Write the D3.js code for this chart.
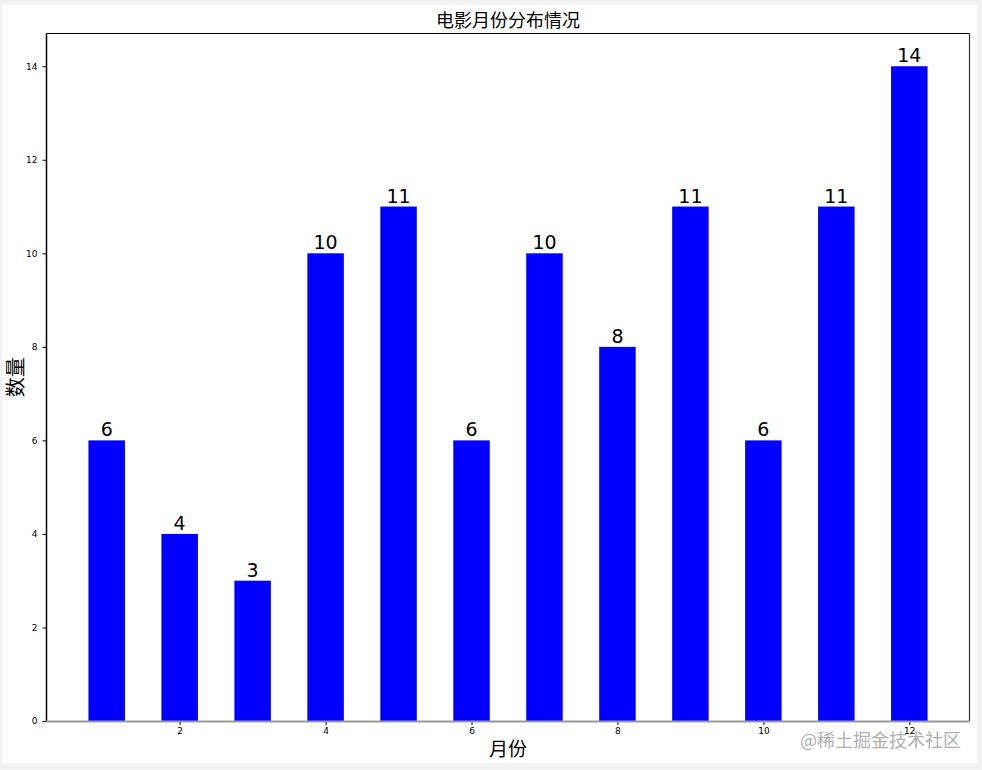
<!DOCTYPE html>
<html><head><meta charset="utf-8">
<script src="https://cdn.jsdelivr.net/npm/d3@7/dist/d3.min.js"></script>
<style>
html,body{margin:0;padding:0;background:#f2f2f2;}
svg{display:block;}
</style></head>
<body>
<svg id="c" width="982" height="770"></svg>
<script>
const months = [1,2,3,4,5,6,7,8,9,10,11,12];
const counts = [6,4,3,10,11,6,10,8,11,6,11,14];
const xTicks = [2,4,6,8,10,12];
const yTicks = [0,2,4,6,8,10,12,14];
const title = "电影月份分布情况";
const xLabel = "月份";
const yLabel = "数量";
const watermark = "@稀土掘金技术社区";

const svg = d3.select("#c");
const font = "'Noto Sans CJK SC', 'DejaVu Sans', sans-serif";
svg.append("rect").attr("x",2).attr("y",5).attr("width",975).attr("height",758).attr("fill","#fff");

const L=46.5, R=969.5, T=33.5, B=721;
const x = d3.scaleLinear().domain([0.175,12.825]).range([L,R]);
const y = d3.scaleLinear().domain([0,14.7]).range([B,T]);
const bw = x(1.25)-x(0.75);

svg.append("g").selectAll("rect").data(months).join("rect")
  .attr("x",(d)=>x(d)-bw/2).attr("width",bw)
  .attr("y",(d,i)=>y(counts[i])).attr("height",(d,i)=>B-y(counts[i]))
  .attr("fill","#0000ff");

svg.append("g").selectAll("text").data(months).join("text")
  .attr("x",d=>x(d)).attr("y",(d,i)=>y(counts[i])-4)
  .attr("text-anchor","middle").attr("font-family","'DejaVu Sans', sans-serif")
  .attr("font-size",19).attr("fill","#000").text((d,i)=>counts[i]);

// axes
const xa = svg.append("g").attr("transform",`translate(0,${B})`)
  .call(d3.axisBottom(x).tickValues(xTicks).tickSize(4).tickPadding(3));
xa.select(".domain").remove();
xa.selectAll("text").attr("font-size",9).attr("font-family","'DejaVu Sans', sans-serif");
const ya = svg.append("g").attr("transform",`translate(${L},0)`)
  .call(d3.axisLeft(y).tickValues(yTicks).tickSize(4).tickPadding(5));
ya.select(".domain").remove();
ya.selectAll("text").attr("font-size",9).attr("font-family","'DejaVu Sans', sans-serif");

// spines
svg.append("line").attr("x1",L).attr("x2",R).attr("y1",T).attr("y2",T).attr("stroke","#000").attr("stroke-width",1.2);
svg.append("line").attr("x1",L).attr("x2",L).attr("y1",T).attr("y2",B).attr("stroke","#000").attr("stroke-width",1.5);
svg.append("line").attr("x1",R).attr("x2",R).attr("y1",T).attr("y2",B).attr("stroke","#333").attr("stroke-width",1.2);
svg.append("line").attr("x1",L).attr("x2",R).attr("y1",B+0.5).attr("y2",B+0.5).attr("stroke","#999").attr("stroke-width",2);

svg.append("text").attr("x",(L+R)/2).attr("y",27).attr("text-anchor","middle")
  .attr("font-family",font).attr("font-size",18).attr("fill","#000").text(title);
svg.append("text").attr("x",(L+R)/2).attr("y",756).attr("text-anchor","middle")
  .attr("font-family",font).attr("font-size",19).attr("fill","#000").text(xLabel);
svg.append("text").attr("transform",`translate(23,${(T+B)/2}) rotate(-90)`).attr("text-anchor","middle")
  .attr("font-family",font).attr("font-size",20).attr("fill","#000").text(yLabel);
svg.append("text").attr("x",961).attr("y",747).attr("text-anchor","end")
  .attr("font-family",font).attr("font-size",18).attr("fill","#a8a8a8").attr("opacity",0.9).text(watermark);
</script>
</body></html>
